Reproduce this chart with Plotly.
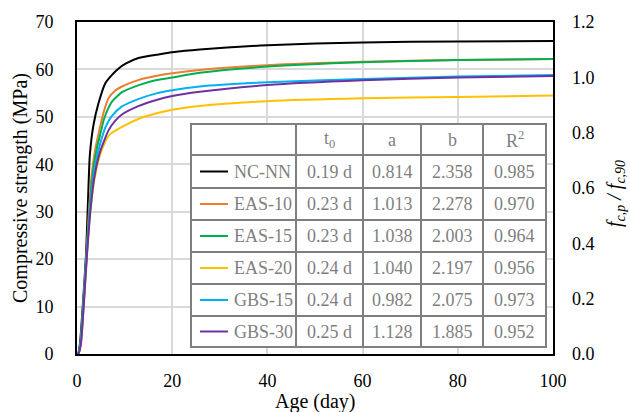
import plotly.graph_objects as go

# ---- data ----
series_names = ["NC-NN", "EAS-10", "EAS-15", "EAS-20", "GBS-15", "GBS-30"]
series_colors = ["#000000", "#ED7D31", "#00B050", "#FFC000", "#00B0F0", "#7030A0"]

nc_nn_x = [0, 0.19, 0.6, 1.2, 1.9, 2.3, 2.7, 3.5, 4.5, 5.9, 7.3, 8.75, 10.2, 12.9, 17.4, 20, 25.8, 40, 60, 80, 100]
nc_nn_y = [0, 0, 2, 10, 21, 32, 42, 48.5, 52.8, 57.0, 58.8, 60.2, 61.2, 62.4, 63.2, 63.6, 64.2, 65.1, 65.7, 65.9, 66.0]

eas10_x = [0, 0.23, 0.7, 1.3, 2.0, 2.5, 3.1, 3.8, 4.7, 5.6, 6.65, 8, 9.45, 13, 16.5, 20, 25.8, 40, 60, 80, 100]
eas10_y = [0, 0, 2, 10, 21, 30, 38, 43, 47.2, 51.0, 54.0, 55.5, 56.4, 57.8, 58.6, 59.2, 59.9, 60.9, 61.6, 62.0, 62.2]

eas15_x = [0, 0.23, 0.7, 1.3, 2.0, 2.6, 3.3, 4.2, 5.1, 5.6, 6.3, 7.35, 9.45, 13, 16.5, 20, 25.8, 40, 60, 80, 100]
eas15_y = [0, 0, 2, 10, 21, 30, 38, 43.5, 47.2, 49.3, 51.2, 53.2, 55.2, 56.7, 57.7, 58.3, 59.3, 60.6, 61.5, 62.0, 62.2]

eas20_x = [0, 0.24, 0.8, 1.4, 2.1, 2.8, 3.7, 4.8, 5.8, 6.9, 9.45, 13, 16.5, 20, 25.8, 40, 60, 80, 100]
eas20_y = [0, 0, 2, 10, 21, 30, 37, 41.8, 44.5, 46.3, 47.9, 49.6, 50.7, 51.5, 52.3, 53.3, 53.9, 54.2, 54.5]

gbs15_x = [0, 0.24, 0.75, 1.35, 2.05, 2.7, 3.4, 4.4, 5.74, 6.3, 7.35, 9.45, 13, 16.5, 20, 25.8, 40, 60, 80, 100]
gbs15_y = [0, 0, 2, 10, 21, 30, 37, 42.5, 47.2, 48.5, 50.2, 52.2, 53.8, 54.9, 55.6, 56.4, 57.3, 58.0, 58.5, 58.8]

gbs30_x = [0, 0.25, 0.8, 1.4, 2.1, 2.8, 3.6, 4.8, 6.65, 8.05, 9.45, 13, 16.5, 20, 25.8, 40, 60, 80, 100]
gbs30_y = [0, 0, 2, 10, 21, 30, 37, 42.5, 47.2, 49.2, 50.5, 52.3, 53.5, 54.4, 55.3, 56.7, 57.7, 58.3, 58.6]

series_x = [nc_nn_x, eas10_x, eas15_x, eas20_x, gbs15_x, gbs30_x]
series_y = [nc_nn_y, eas10_y, eas15_y, eas20_y, gbs15_y, gbs30_y]

# table values
t0_vals = ["0.19 d", "0.23 d", "0.23 d", "0.24 d", "0.24 d", "0.25 d"]
a_vals = ["0.814", "1.013", "1.038", "1.040", "0.982", "1.128"]
b_vals = ["2.358", "2.278", "2.003", "2.197", "2.075", "1.885"]
r2_vals = ["0.985", "0.970", "0.964", "0.956", "0.973", "0.952"]
table_headers = ["", "t<sub>0</sub>", "a", "b", "R<sup>2</sup>"]

x_ticks = [0, 20, 40, 60, 80, 100]
y_ticks = [0, 10, 20, 30, 40, 50, 60, 70]
y2_ticks = [0.0, 0.2, 0.4, 0.6, 0.8, 1.0, 1.2]

FONT = "Liberation Serif"
GRAY = "#7f7f7f"

# ---- layout geometry (pixels) ----
W, H = 630, 412
ML, MR, MT, MB = 77, 77, 22, 58
PW, PH = W - ML - MR, H - MT - MB


def px(xp):
    return (xp - ML) / PW


def py(yp):
    return (H - MB - yp) / PH


col_edges = [191, 296, 363, 421, 483, 546]
row_edges = [124, 155, 188, 220, 252, 284, 316, 347]

fig = go.Figure()

for name, col, xs, ys in zip(series_names, series_colors, series_x, series_y):
    fig.add_trace(go.Scatter(x=xs, y=ys, mode="lines", name=name,
                             line=dict(color=col, width=2, shape="spline", smoothing=0.6),
                             showlegend=False, hoverinfo="skip"))

# invisible trace to activate the secondary axis
fig.add_trace(go.Scatter(x=[x_ticks[0], x_ticks[-1]], y=[y2_ticks[0], y2_ticks[-1]],
                         yaxis="y2", mode="lines", line=dict(color="rgba(0,0,0,0)"),
                         showlegend=False, hoverinfo="skip"))

shapes = []
annotations = []

# table background
shapes.append(dict(type="rect", xref="paper", yref="paper", layer="above",
                   x0=px(col_edges[0]), x1=px(col_edges[-1]),
                   y0=py(row_edges[-1]), y1=py(row_edges[0]),
                   fillcolor="white", line=dict(color=GRAY, width=2)))
for xe in col_edges[1:-1]:
    shapes.append(dict(type="line", xref="paper", yref="paper", layer="above",
                       x0=px(xe), x1=px(xe), y0=py(row_edges[-1]), y1=py(row_edges[0]),
                       line=dict(color=GRAY, width=2)))
for ye in row_edges[1:-1]:
    shapes.append(dict(type="line", xref="paper", yref="paper", layer="above",
                       x0=px(col_edges[0]), x1=px(col_edges[-1]), y0=py(ye), y1=py(ye),
                       line=dict(color=GRAY, width=2)))

# header texts
for c, htxt in enumerate(table_headers):
    if not htxt:
        continue
    annotations.append(dict(xref="paper", yref="paper", showarrow=False,
                            x=px((col_edges[c] + col_edges[c + 1]) / 2),
                            y=py((row_edges[0] + row_edges[1]) / 2),
                            xanchor="center", yanchor="middle", text=htxt,
                            font=dict(family=FONT, size=18, color=GRAY)))

columns = [t0_vals, a_vals, b_vals, r2_vals]
for r, (name, colr) in enumerate(zip(series_names, series_colors)):
    yc = py((row_edges[r + 1] + row_edges[r + 2]) / 2)
    # legend swatch
    shapes.append(dict(type="line", xref="paper", yref="paper", layer="above",
                       x0=px(col_edges[0] + 9), x1=px(col_edges[0] + 37), y0=yc, y1=yc,
                       line=dict(color=colr, width=2)))
    annotations.append(dict(xref="paper", yref="paper", showarrow=False,
                            x=px(col_edges[0] + 41), y=yc, xanchor="left", yanchor="middle",
                            text=name, font=dict(family=FONT, size=18, color=GRAY)))
    for c, vals in enumerate(columns):
        annotations.append(dict(xref="paper", yref="paper", showarrow=False,
                                x=px((col_edges[c + 1] + col_edges[c + 2]) / 2), y=yc,
                                xanchor="center", yanchor="middle", text=vals[r],
                                font=dict(family=FONT, size=18, color=GRAY)))

# axis titles placed in the margins
annotations.append(dict(xref="paper", yref="paper", showarrow=False,
                        x=0.5, y=py(401), xanchor="center", yanchor="middle",
                        text="Age (day)", font=dict(family=FONT, size=20, color="black")))
annotations.append(dict(xref="paper", yref="paper", showarrow=False, textangle=-90,
                        x=px(20), y=0.5, xanchor="center", yanchor="middle",
                        text="Compressive strength (MPa)", font=dict(family=FONT, size=20, color="black")))
annotations.append(dict(xref="paper", yref="paper", showarrow=False, textangle=-90,
                        x=px(615), y=py(194), xanchor="center", yanchor="middle",
                        text="<i>f</i><sub><i>c,p</i></sub><i> / f</i><sub><i>c,90</i></sub>",
                        font=dict(family=FONT, size=20, color="black")))

fig.update_layout(
    width=W, height=H,
    margin=dict(l=ML, r=MR, t=MT, b=MB, autoexpand=False),
    paper_bgcolor="white", plot_bgcolor="white",
    font=dict(family=FONT, size=18, color="black"),
    shapes=shapes, annotations=annotations,
    xaxis=dict(range=[0, 100], tickvals=x_ticks, showgrid=True, gridcolor="#d9d9d9", gridwidth=1.5,
               showline=True, linecolor="black", linewidth=2, mirror=True, ticks="",
               zeroline=False, ticklabelstandoff=9, automargin=False),
    yaxis=dict(range=[0, 70], tickvals=y_ticks, showgrid=True, gridcolor="#d9d9d9", gridwidth=1.5,
               showline=True, linecolor="black", linewidth=2, mirror=True, ticks="",
               zeroline=False, ticklabelstandoff=18, automargin=False),
    yaxis2=dict(range=[0, 1.2], tickvals=y2_ticks, tickformat=".1f", overlaying="y", side="right",
                showgrid=False, showline=False, ticks="", zeroline=False, ticklabelstandoff=18,
                automargin=False),
)

fig.write_html("out.html")
